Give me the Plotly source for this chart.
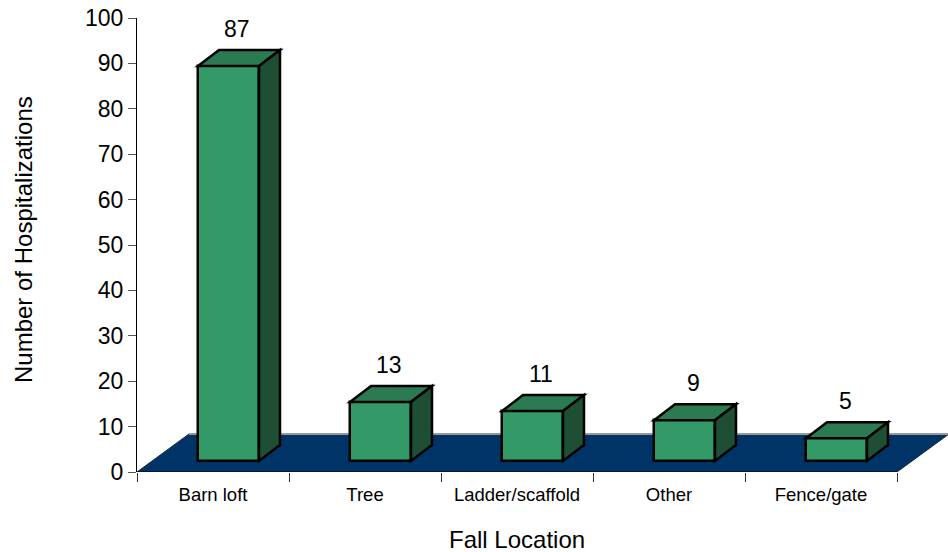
import plotly.graph_objects as go

# ---- data ----
categories = ["Barn loft", "Tree", "Ladder/scaffold", "Other", "Fence/gate"]
values = [87, 13, 11, 9, 5]
y_tick_vals = list(range(0, 101, 10))
x_title = "Fall Location"
y_title = "Number of Hospitalizations"

# ---- layout geometry (pixels) ----
W, H = 948, 552
ML, MR, MT, MB = 137, 0, 18, 80
CAT_PX = 152
Y_MAX = 100
plot_w = W - ML - MR
plot_h = H - MT - MB
PX_Y = plot_h / Y_MAX
n = len(categories)
x_range = [-0.5, -0.5 + plot_w / CAT_PX]


def dx(p):
    return p / CAT_PX


def dy(p):
    return p / PX_Y


FRONT_DX, FRONT_DY = 15, 11      # bars sit this far "into" the floor
BAR_DX, BAR_DY = 21, 16          # bar depth
FLOOR_DX, FLOOR_DY = 52, 38      # floor depth
BAR_OFF_PX, BAR_W_PX = -15, 61   # front face relative to category centre

FRONT = "#339966"
TOP = "#2b7a52"
SIDE = "#1e4f34"
FLOOR = "#003366"
FONT = "Arial, Liberation Sans, sans-serif"
EDGE_W = 2.5

base = dy(FRONT_DY)

fig = go.Figure()
fig.add_trace(go.Bar(
    x=categories, y=values, base=[base] * n,
    offset=dx(BAR_OFF_PX), width=dx(BAR_W_PX),
    marker=dict(color=FRONT, line=dict(color="black", width=EDGE_W)),
    hoverinfo="skip", showlegend=False,
))

shapes = []
# floor
x0f, x1f = -0.5, n - 0.5
fx, fy = dx(FLOOR_DX), dy(FLOOR_DY)
shapes.append(dict(
    type="path", layer="below", xref="x", yref="y",
    path=f"M {x0f},0 L {x1f},0 L {x1f + fx},{fy} L {x0f + fx},{fy} Z",
    fillcolor=FLOOR, line=dict(color="#1a2a40", width=1),
))
shapes.append(dict(
    type="line", layer="below", xref="x", yref="y",
    x0=x0f + fx, y0=fy, x1=x1f + fx, y1=fy,
    line=dict(color="#999999", width=2),
))
# x axis line
shapes.append(dict(
    type="line", layer="above", xref="x", yref="y",
    x0=x0f, y0=0, x1=x1f, y1=0, line=dict(color="black", width=1),
))

bdx, bdy = dx(BAR_DX), dy(BAR_DY)
annotations = []
for i, v in enumerate(values):
    xl = i + dx(BAR_OFF_PX)
    xr = xl + dx(BAR_W_PX)
    top = base + v
    # top face
    shapes.append(dict(
        type="path", layer="above", xref="x", yref="y",
        path=f"M {xl},{top} L {xr},{top} L {xr + bdx},{top + bdy} L {xl + bdx},{top + bdy} Z",
        fillcolor=TOP, line=dict(color="black", width=EDGE_W),
    ))
    # side face
    shapes.append(dict(
        type="path", layer="above", xref="x", yref="y",
        path=f"M {xr},{base} L {xr},{top} L {xr + bdx},{top + bdy} L {xr + bdx},{base + bdy} Z",
        fillcolor=SIDE, line=dict(color="black", width=EDGE_W),
    ))
    annotations.append(dict(
        x=(xl + xr + bdx) / 2 - dx(2), y=top, xref="x", yref="y",
        text=str(v), showarrow=False, yanchor="middle",
        yshift=BAR_DY + 21, font=dict(size=23, color="black", family=FONT),
    ))

# screen-space targets for titles
XT_Y = 539
YT_X, YT_Y = 23, 240
annotations.append(dict(
    x=(n - 1) / 2, xref="x", y=-(XT_Y - (H - MB)) / plot_h, yref="paper",
    text=x_title, showarrow=False, yanchor="middle", xanchor="center",
    font=dict(size=24, color="black", family=FONT),
))
annotations.append(dict(
    x=(YT_X - ML) / plot_w, xref="paper",
    y=1 - (YT_Y - MT) / plot_h, yref="paper",
    text=y_title, showarrow=False, textangle=-90, xanchor="center", yanchor="middle",
    font=dict(size=24, color="black", family=FONT),
))

fig.update_layout(
    width=W, height=H,
    margin=dict(l=ML, r=MR, t=MT, b=MB, pad=0),
    paper_bgcolor="white", plot_bgcolor="white",
    font=dict(family=FONT, color="black"),
    shapes=shapes, annotations=annotations,
    bargap=0,
    xaxis=dict(
        type="category", range=x_range, tickson="boundaries",
        ticks="outside", ticklen=9, tickcolor="#333333", tickwidth=1,
        ticklabelstandoff=9,
        showline=False, showgrid=False, zeroline=False,
        tickfont=dict(size=18.5, color="black", family=FONT),
        fixedrange=True,
    ),
    yaxis=dict(
        range=[0, Y_MAX], tickvals=y_tick_vals,
        ticks="outside", ticklen=8, tickcolor="#555555", tickwidth=1,
        ticklabeloverflow="allow",
        showline=True, linecolor="black", linewidth=1,
        showgrid=False, zeroline=False,
        tickfont=dict(size=23, color="black", family=FONT),
        fixedrange=True,
    ),
)

fig.write_html(
    "out.html",
    config={"displayModeBar": False},
    post_script="document.body.style.margin='0';document.body.style.overflow='hidden';",
)
